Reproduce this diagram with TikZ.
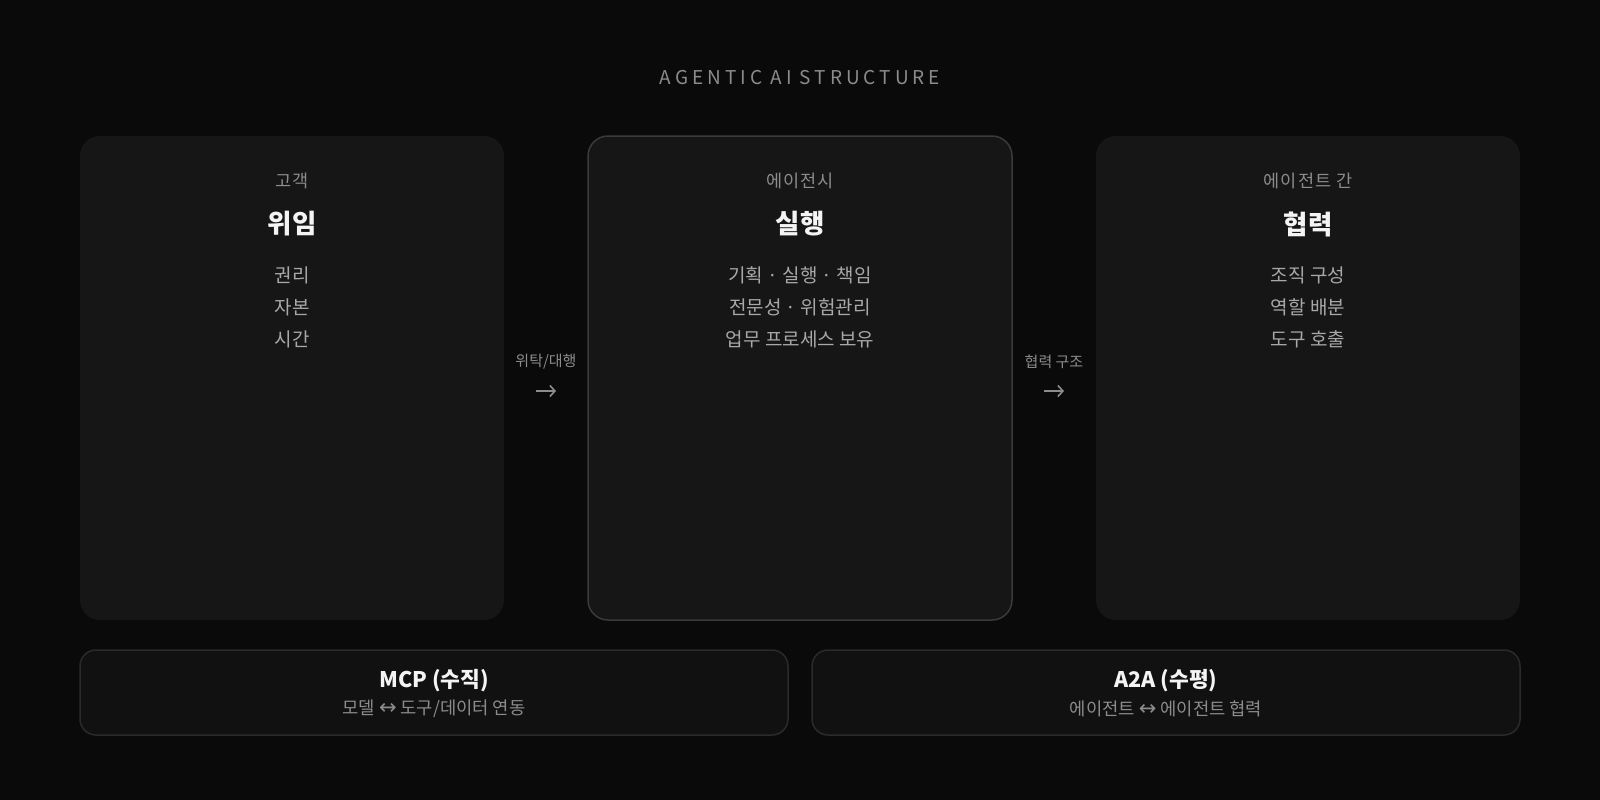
\documentclass[tikz,border=0pt]{standalone}
\usepackage{fontspec}
\setmainfont{Noto Sans CJK KR}
\newfontfamily\symbolfont{DejaVu Sans}
\usetikzlibrary{positioning,arrows.meta,calc}

\definecolor{bgcolor}{HTML}{0A0A0A}
\definecolor{cardfill}{HTML}{161616}
\definecolor{cardline}{HTML}{3A3A3A}
\definecolor{bandfill}{HTML}{111111}
\definecolor{bandline}{HTML}{2A2A2A}
\definecolor{dimtext}{HTML}{8C8C8C}
\definecolor{softtext}{HTML}{A8A8A8}
\definecolor{brighttext}{HTML}{F4F4F4}

\newcommand{\twoway}{{\symbolfont\fontsize{21}{21}\selectfont ↔}}

\begin{document}
\begin{tikzpicture}[x=1pt,y=-1pt,node distance=84pt,
  card node/.style={rectangle,rounded corners=20pt,fill=cardfill,
  minimum width=424pt,minimum height=484pt,inner sep=0pt,outer sep=0pt},
  band node/.style={rectangle,rounded corners=16pt,fill=bandfill,draw=bandline,
  line width=1.5pt,minimum width=708pt,minimum height=85pt,inner sep=0pt,outer sep=0pt},
  title node/.style={text=dimtext,font=\fontsize{19}{23}\selectfont\addfontfeatures{LetterSpace=21}},
  kicker node/.style={text=dimtext,font=\fontsize{17.5}{21}\selectfont\addfontfeatures{LetterSpace=6}},
  head node/.style={text=brighttext,font=\fontsize{26.5}{31}\selectfont\bfseries},
  list node/.style={text=softtext,align=center,font=\fontsize{19}{32}\selectfont},
  link node/.style={text=dimtext,font=\fontsize{15}{18}\selectfont},
  flow arrow/.style={draw=dimtext,line width=1.6pt,
  -{Straight Barb[length=5pt,width=11pt]},shorten <=32pt,shorten >=32pt},
  band head/.style={text=brighttext,font=\fontsize{21.5}{25}\selectfont\bfseries},
  band sub/.style={text=dimtext,font=\fontsize{17.7}{21}\selectfont}]

  \fill[bgcolor] (0,0) rectangle (1600,800);
  \useasboundingbox (0,0) rectangle (1600,800);

  %the three cards%
  \node[card node] (client) at (292,378) {};
  \node[card node,draw=cardline,line width=1.5pt] (agency) [right=of client] {};
  \node[card node] (collab) [right=of agency] {};

  \node[title node] (title) at ([yshift=58pt]agency.north) {AGENTIC AI STRUCTURE};

  %client card%
  \node[kicker node] (clientK) at ([yshift=-45pt]client.north) {고객};
  \node[head node] (clientH) at ([yshift=-88pt]client.north) {위임};
  \node[list node] (clientL) at ([yshift=-171pt]client.north) {권리\\자본\\시간};

  %agency card%
  \node[kicker node] (agencyK) at ([yshift=-45pt]agency.north) {에이전시};
  \node[head node] (agencyH) at ([yshift=-88pt]agency.north) {실행};
  \node[list node] (agencyL) at ([yshift=-171pt]agency.north)
    {기획 · 실행 · 책임\\전문성 · 위험관리\\업무 프로세스 보유};

  %collaboration card%
  \node[kicker node] (collabK) at ([yshift=-45pt]collab.north) {에이전트 간};
  \node[head node] (collabH) at ([yshift=-88pt]collab.north) {협력};
  \node[list node] (collabL) at ([yshift=-171pt]collab.north)
    {조직 구성\\역할 배분\\도구 호출};

  %links between cards%
  \node[link node] (delegate) at ($(client.east)!0.5!(agency.west)+(0,16pt)$) {위탁/대행};
  \draw[flow arrow] ([yshift=-13pt]client.east) -- ([yshift=-13pt]agency.west);
  \node[link node] (structure) at ($(agency.east)!0.5!(collab.west)+(0,16pt)$) {협력 구조};
  \draw[flow arrow] ([yshift=-13pt]agency.east) -- ([yshift=-13pt]collab.west);

  %protocol bands%
  \node[band node,anchor=north west] (mcp) at ([yshift=-30pt]client.south west) {};
  \node[band node] (atoa) [right=24pt of mcp] {};

  \node[band head] (mcpH) at ([yshift=-31pt]mcp.north) {MCP (수직)};
  \node[band sub] (mcpS) at ([yshift=-59pt]mcp.north) {모델 \twoway{} 도구/데이터 연동};
  \node[band head] (atoaH) at ([yshift=-31pt]atoa.north) {A2A (수평)};
  \node[band sub] (atoaS) at ([yshift=-59pt]atoa.north) {에이전트 \twoway{} 에이전트 협력};

\end{tikzpicture}
\end{document}
